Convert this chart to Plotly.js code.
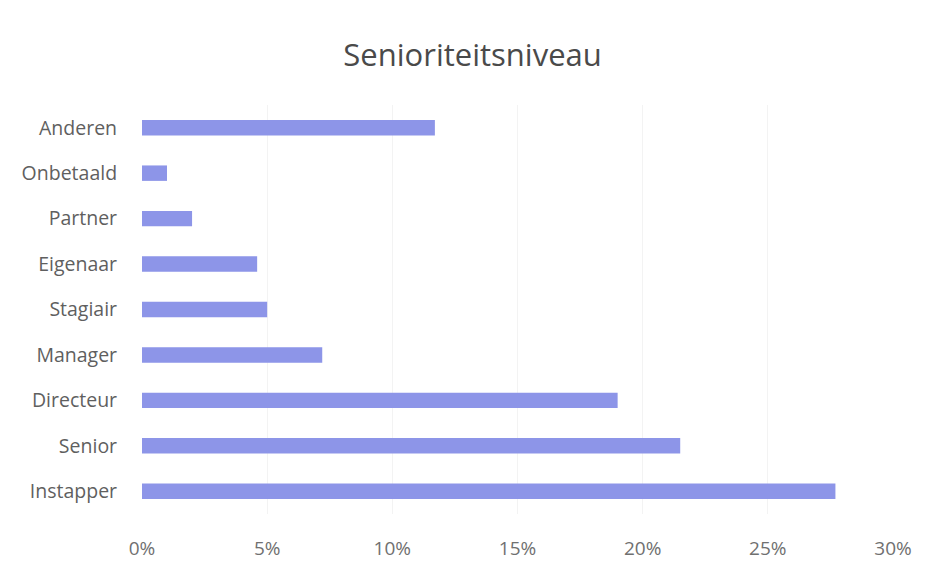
<!DOCTYPE html>
<html>
<head>
<meta charset="utf-8">
<script src="https://cdn.plot.ly/plotly-3.0.1.min.js"></script>
<style>html,body{margin:0;padding:0;background:#fff;}#chart{width:934px;height:566px;}</style>
</head>
<body>
<div id="chart"></div>
<script>
const categories = ["Instapper", "Senior", "Directeur", "Manager", "Stagiair", "Eigenaar", "Partner", "Onbetaald", "Anderen"];
const values = [27.7, 21.5, 19.0, 7.2, 5.0, 4.6, 2.0, 1.0, 11.7];
const tickValues = [0, 5, 10, 15, 20, 25, 30];
const tickLabels = ["0%", "5%", "10%", "15%", "20%", "25%", "30%"];

const data = [{
  type: "bar",
  orientation: "h",
  y: categories,
  x: values,
  marker: {color: "#8d95e8", line: {width: 0}},
  hoverinfo: "none"
}];

const layout = {
  width: 934, height: 566,
  margin: {l: 142, r: 41, t: 105, b: 52},
  paper_bgcolor: "#ffffff",
  plot_bgcolor: "#ffffff",
  bargap: 0.66,
  showlegend: false,
  font: {family: "Open Sans, Liberation Sans, sans-serif", color: "#5f5f5f"},
  title: {
    text: "Senioriteitsniveau",
    x: 0.506, xanchor: "center",
    y: 0.903, yanchor: "middle",
    font: {size: 31, color: "#4a4a4a", family: "Open Sans, sans-serif"}
  },
  xaxis: {
    range: [0, 30],
    tickvals: tickValues,
    ticktext: tickLabels,
    showgrid: true,
    gridcolor: "#f3f3f3",
    zeroline: false,
    showline: false,
    ticks: "outside",
    ticklen: 17,
    tickcolor: "rgba(0,0,0,0)",
    tickfont: {size: 19, color: "#707070"},
    fixedrange: true
  },
  yaxis: {
    type: "category",
    categoryorder: "array",
    categoryarray: categories,
    range: [-0.5, 8.5],
    showgrid: false,
    zeroline: false,
    showline: false,
    ticks: "outside",
    ticklen: 20,
    tickcolor: "rgba(0,0,0,0)",
    tickfont: {size: 19.5, color: "#5f5f5f"},
    fixedrange: true
  }
};

Plotly.newPlot("chart", data, layout, {displayModeBar: false, staticPlot: true});
</script>
</body>
</html>
